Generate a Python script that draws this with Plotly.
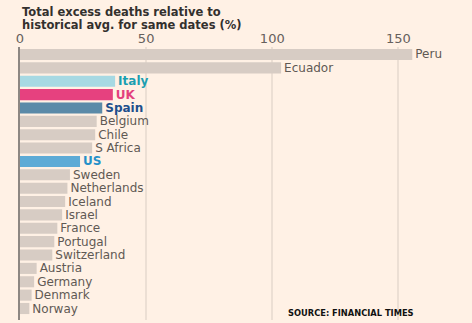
import plotly.graph_objects as go

countries = ["Peru", "Ecuador", "Italy", "UK", "Spain", "Belgium", "Chile", "S Africa", "US",
             "Sweden", "Netherlands", "Iceland", "Israel", "France", "Portugal", "Switzerland",
             "Austria", "Germany", "Denmark", "Norway"]
excess = [155.5, 103.5, 37.7, 36.8, 32.6, 30.4, 29.8, 28.6, 23.8,
          19.8, 18.8, 17.9, 16.7, 14.8, 13.6, 12.8,
          6.6, 5.6, 4.6, 3.7]
x_ticks = [0, 50, 100, 150]
title_lines = ["Total excess deaths relative to", "historical avg. for same dates (%)"]

highlight_bar = {"Italy": "#a7d9e3", "UK": "#e6417f", "Spain": "#5b8aa8", "US": "#5eabd6"}
highlight_txt = {"Italy": "#1b9fb2", "UK": "#e3407d", "Spain": "#1d4f8c", "US": "#2590c9"}
grey_bar = "#d7ccc4"
grey_txt = "#5f5954"

bar_colors = [highlight_bar.get(c, grey_bar) for c in countries]
txt_colors = [highlight_txt.get(c, grey_txt) for c in countries]
labels = [f"<b>{c}</b>" if c in highlight_bar else c for c in countries]

FONT = "DejaVu Sans"
PLOT_TOP, PLOT_H = 47, 273


def py(p):
    return 1 + (PLOT_TOP - p) / PLOT_H


fig = go.Figure(go.Bar(
    x=excess, y=countries, orientation="h",
    marker=dict(color=bar_colors, line=dict(width=0)),
    text=labels, textposition="outside", constraintext="none", cliponaxis=False,
    textfont=dict(color=txt_colors, size=12, family=FONT),
    hoverinfo="skip",
))

annotations = [
    dict(text=f"<b>{line}</b>", xref="paper", yref="paper", x=0, y=py(yc),
         xanchor="left", yanchor="middle", align="left", showarrow=False,
         font=dict(size=11.5, color="#33302e", family=FONT))
    for line, yc in zip(title_lines, [12, 25])
]
annotations.append(dict(
    text="<b>SOURCE: FINANCIAL TIMES</b>",
    xref="paper", yref="paper", x=(286 - 20) / 444, y=py(313),
    xanchor="left", yanchor="middle", showarrow=False,
    font=dict(size=8.3, color="#111111", family=FONT),
))

bg = "#fff1e5"
fig.update_layout(
    width=472, height=323,
    margin=dict(l=20, r=8, t=PLOT_TOP, b=3),
    paper_bgcolor=bg, plot_bgcolor=bg,
    bargap=0.17,
    showlegend=False,
    font=dict(family=FONT, color=grey_txt),
    xaxis=dict(
        side="top", range=[0, 176], tickvals=x_ticks,
        tickfont=dict(size=13, color="#66605c", family=FONT),
        showgrid=True, gridcolor="#ecdfd4", gridwidth=2,
        zeroline=False, showline=False, ticks="", ticklabelstandoff=0,
        fixedrange=True,
    ),
    yaxis=dict(
        type="category", categoryarray=countries,
        range=[19.86, -0.56], showticklabels=False, ticks="",
        showgrid=False, zeroline=False,
        showline=True, linecolor="#8d8782", linewidth=2,
    ),
    annotations=annotations,
)

fig.write_html("out.html")
